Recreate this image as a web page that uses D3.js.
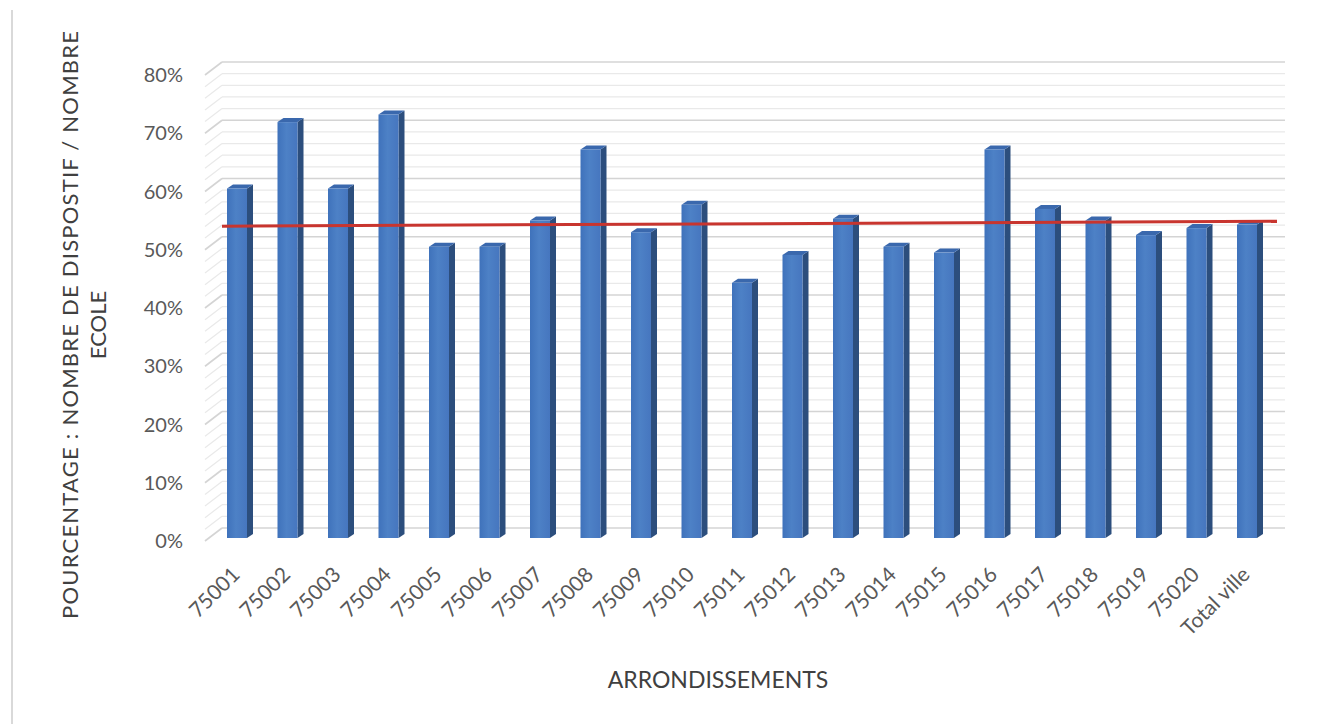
<!DOCTYPE html>
<html>
<head>
<meta charset="utf-8">
<script src="https://cdn.jsdelivr.net/npm/d3@7"></script>
<style>
  html, body { margin: 0; padding: 0; background: #ffffff; }
  svg { display: block; }
  text { font-family: Lato, "Open Sans", sans-serif; }
</style>
</head>
<body>
<svg id="chart" width="1329" height="724"></svg>
<script>
// ---- data ----
const categories = ["75001","75002","75003","75004","75005","75006","75007","75008","75009","75010",
  "75011","75012","75013","75014","75015","75016","75017","75018","75019","75020","Total ville"];
const values = [0.600, 0.714, 0.600, 0.727, 0.500, 0.500, 0.545, 0.667, 0.525, 0.572,
  0.438, 0.486, 0.548, 0.500, 0.490, 0.667, 0.565, 0.545, 0.520, 0.532, 0.538];
const moyenne = 0.537;
const yTicks = [0, 0.1, 0.2, 0.3, 0.4, 0.5, 0.6, 0.7, 0.8];
const yTitleLines = ["POURCENTAGE : NOMBRE DE DISPOSTIF / NOMBRE", "ECOLE"];
const xTitle = "ARRONDISSEMENTS";

// ---- geometry ----
const svg = d3.select("#chart");
const wallX0 = 222, wallX1 = 1285;       // back wall extent
const depthDX = -17, depthDY = 13;        // back -> front offset
const barDY = 10;                          // bar front face offset from back wall
const barW = 20, sideW = 6, sideH = 4;

const yBack = d3.scaleLinear().domain([0, 0.8]).range([528, 62]);
const x = d3.scalePoint().domain(categories).range([237, 1247]);

// left page border
svg.append("line").attr("x1", 12).attr("x2", 12).attr("y1", 10).attr("y2", 724)
  .attr("stroke", "#d9d9d9").attr("stroke-width", 2);

// gridlines (minor every 2%, major every 10%)
const gridVals = d3.range(0, 41).map(i => i * 0.02);
const g = svg.append("g");
gridVals.forEach(v => {
  const major = Math.round(v * 100) % 10 === 0;
  const col = major ? "#d4d4d4" : "#e9e9e9";
  const sw = major ? 1.6 : 1.2;
  const y = yBack(v);
  g.append("line").attr("x1", wallX0).attr("x2", wallX1).attr("y1", y).attr("y2", y)
    .attr("stroke", col).attr("stroke-width", sw);
  g.append("line").attr("x1", wallX0).attr("y1", y)
    .attr("x2", wallX0 + depthDX).attr("y2", y + depthDY)
    .attr("stroke", col).attr("stroke-width", sw);
});

// y tick labels
svg.append("g").selectAll("text").data(yTicks).join("text")
  .attr("x", 183).attr("y", d => yBack(d) + depthDY)
  .attr("dy", "0.35em").attr("text-anchor", "end")
  .attr("font-size", 20).attr("fill", "#595959")
  .text(d => d3.format(".0%")(d));

// gradient for bar fronts
const defs = svg.append("defs");
const grad = defs.append("linearGradient").attr("id", "front").attr("x1", "0").attr("x2", "1").attr("y1", "0").attr("y2", "0");
grad.append("stop").attr("offset", "0%").attr("stop-color", "#3f72bb");
grad.append("stop").attr("offset", "45%").attr("stop-color", "#4d81c6");
grad.append("stop").attr("offset", "100%").attr("stop-color", "#4676bf");

// bars
const base = yBack(0) + barDY;
const bars = svg.append("g").selectAll("g").data(categories).join("g");
bars.append("path").attr("fill", "#2c4e7d")
  .attr("d", (c, i) => {
    const cx = x(c), top = yBack(values[i]) + barDY;
    return `M${cx + barW/2},${top} L${cx + barW/2 + sideW},${top - sideH} L${cx + barW/2 + sideW},${base - sideH} L${cx + barW/2},${base} Z`;
  });
bars.append("path").attr("fill", "#3a68ad")
  .attr("d", (c, i) => {
    const cx = x(c), top = yBack(values[i]) + barDY;
    return `M${cx - barW/2},${top} L${cx - barW/2 + sideW},${top - sideH} L${cx + barW/2 + sideW},${top - sideH} L${cx + barW/2},${top} Z`;
  });
bars.append("rect").attr("fill", "url(#front)")
  .attr("x", c => x(c) - barW/2)
  .attr("y", (c, i) => yBack(values[i]) + barDY)
  .attr("width", barW)
  .attr("height", (c, i) => base - (yBack(values[i]) + barDY));

// average line
const lineX0 = wallX0, lineX1 = x(categories[categories.length - 1]) + 30;
svg.append("line")
  .attr("x1", lineX0).attr("x2", lineX1)
  .attr("y1", yBack(moyenne) + barDY + 1).attr("y2", yBack(moyenne) + barDY - 4)
  .attr("stroke", "#c8352f").attr("stroke-width", 3);

// x labels
svg.append("g").selectAll("text").data(categories).join("text")
  .attr("transform", c => `translate(${x(c) + 4},${576}) rotate(-45)`)
  .attr("text-anchor", "end").attr("font-size", 21).attr("fill", "#595959")
  .text(c => c);

// axis titles
svg.append("text").attr("x", 718).attr("y", 688).attr("text-anchor", "middle")
  .attr("font-size", 23).attr("fill", "#404040").text(xTitle);

const yt = svg.append("text").attr("transform", "translate(70,325) rotate(-90)")
  .attr("text-anchor", "middle").attr("font-size", 22).attr("fill", "#404040");
yTitleLines.forEach((t, i) => {
  const ts = yt.append("tspan").attr("x", 0).attr("y", i * 28).attr("dy", "0.35em").text(t);
  if (i === 0) ts.attr("textLength", 588).attr("lengthAdjust", "spacing");
});
</script>
</body>
</html>
